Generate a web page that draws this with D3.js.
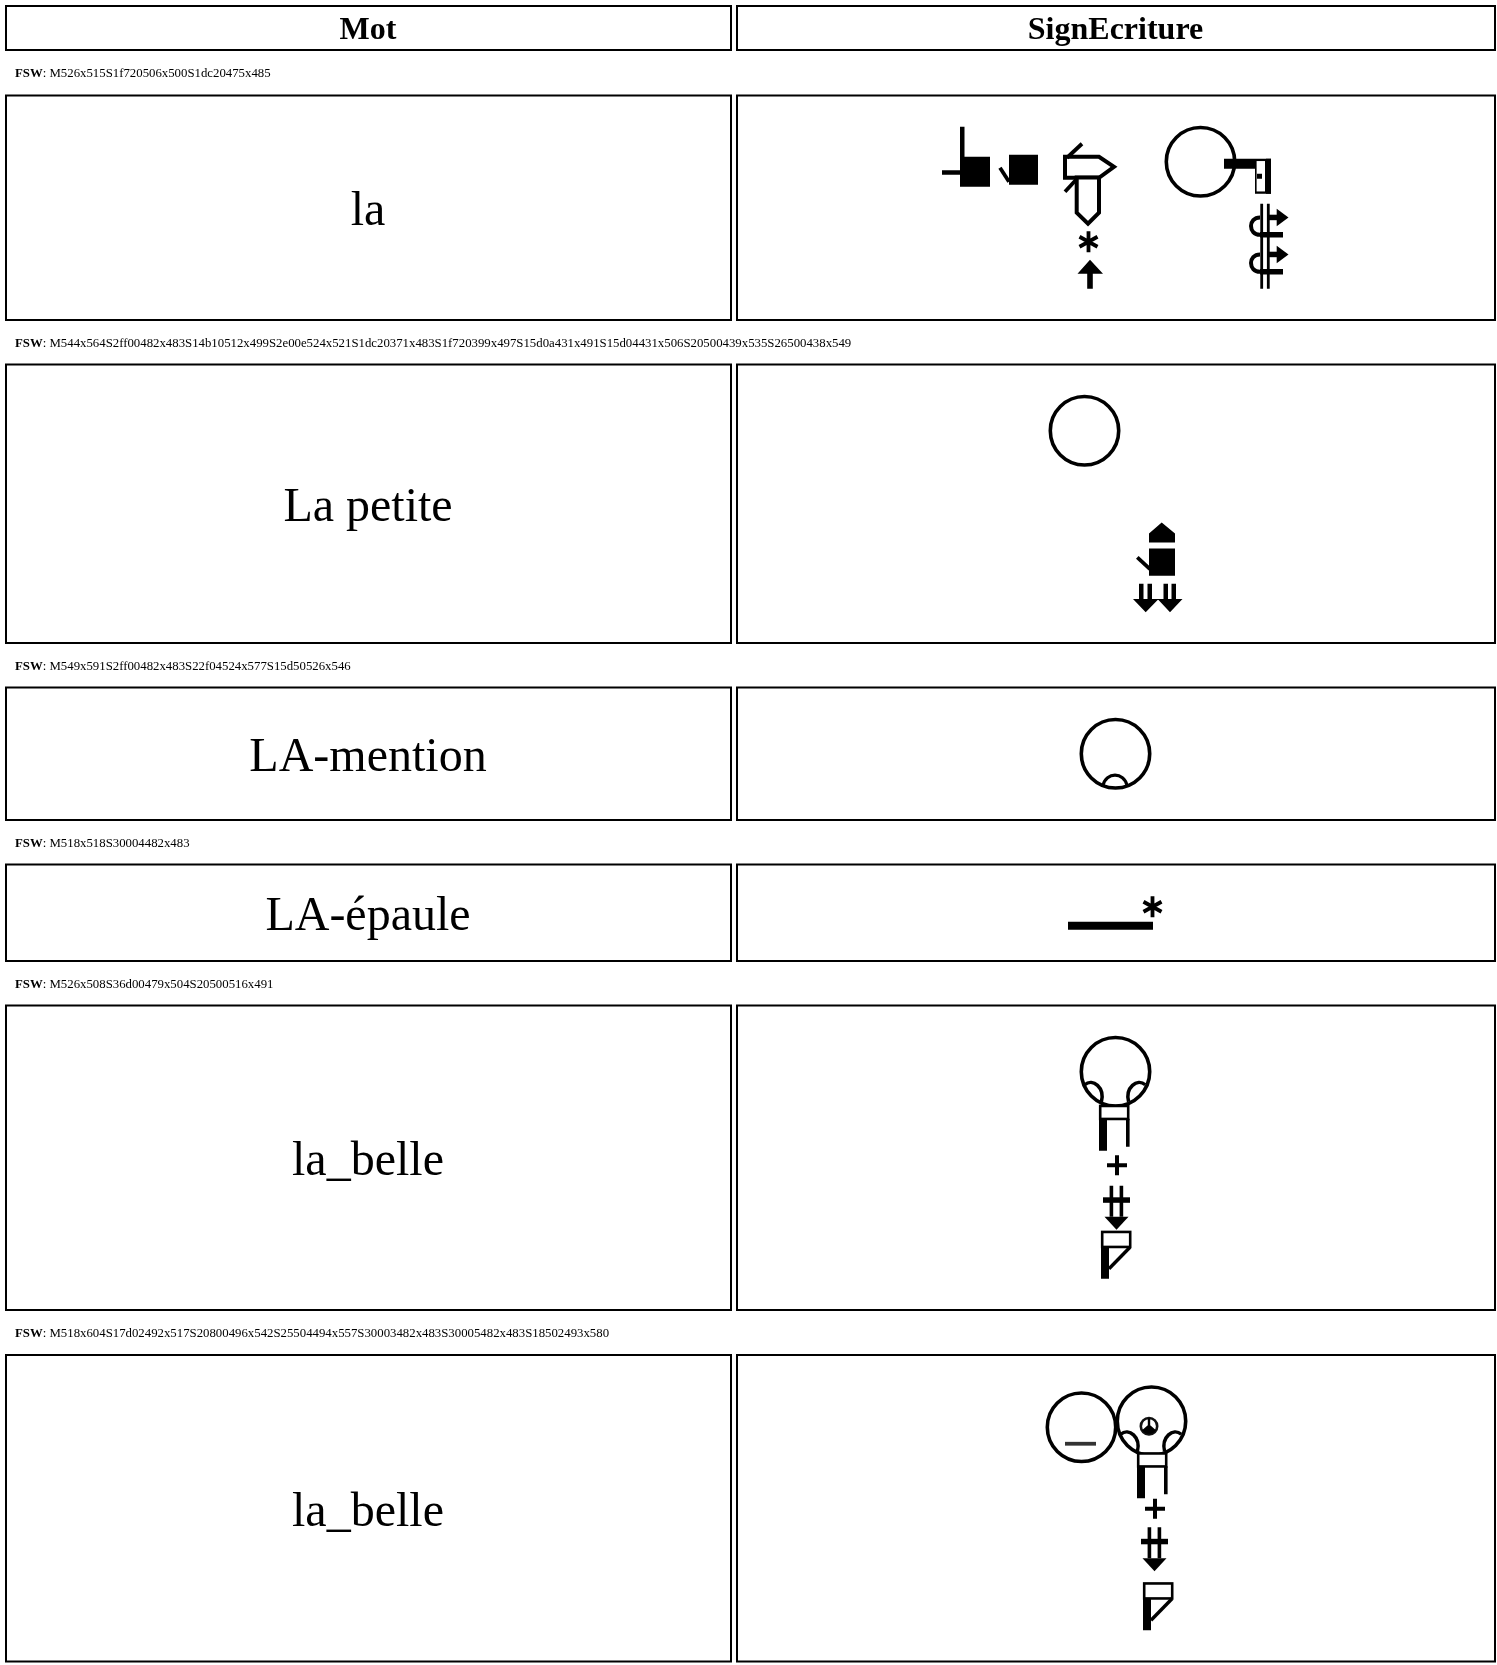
<!DOCTYPE html>
<html>
<head>
<meta charset="utf-8">
<script src="https://cdn.jsdelivr.net/npm/d3@7"></script>
<style>
  html, body { margin: 0; padding: 0; background: #fff; overflow: hidden; }
  svg { filter: blur(0.35px); }
  text { font-family: "Liberation Serif", "Times New Roman", serif; fill: #000; }
</style>
</head>
<body>
<div id="chart"></div>
<script>
// table content
var columns = ["Mot", "SignEcriture"];
var words = ["la", "La petite", "LA-mention", "LA-épaule", "la_belle", "la_belle"];
var fswLines = [
  "M526x515S1f720506x500S1dc20475x485",
  "M544x564S2ff00482x483S14b10512x499S2e00e524x521S1dc20371x483S1f720399x497S15d0a431x491S15d04431x506S20500439x535S26500438x549",
  "M549x591S2ff00482x483S22f04524x577S15d50526x546",
  "M518x518S30004482x483",
  "M526x508S36d00479x504S20500516x491",
  "M518x604S17d02492x517S20800496x542S25504494x557S30003482x483S30005482x483S18502493x580"
];
var lastSign = "M517x605S33b00447x486S30003482x483S30005482x483S2f700494x498S17d02493x516S20800497x539S25504495x553S18502496x581";

var width = 1497, height = 1665;
var unit = 2;          // px per fsw unit
var rowPad = 62.5;     // row height on top of the sign height
var headerTop = 6, headerHeight = 44;
var captionGaps = [45.5, 44.5, 44.5, 44.5, 44.5, 45];
var leftCol = [6, 731], rightCol = [737, 1495];
var signMid = 1115;

var svg = d3.select("#chart").append("svg")
  .attr("width", width)
  .attr("height", height);

function fillPath(g, d) {
  return g.append("path").attr("d", d).attr("fill", "#000");
}
function strokePath(g, d, w, fill) {
  return g.append("path").attr("d", d)
    .attr("fill", fill || "none")
    .attr("stroke", "#000")
    .attr("stroke-width", w);
}
function head(g) {
  g.append("circle").attr("cx", 36.5).attr("cy", 35).attr("r", 34.2)
    .attr("fill", "none").attr("stroke", "#000").attr("stroke-width", 3.6);
}
function arrowCross(g) {
  strokePath(g, "M8.4 1V32M18.4 1V32", 3.6);
  strokePath(g, "M0 15.3H27", 5.5);
  fillPath(g, "M1.5 32H25.5L13.5 45Z");
}
function hook(g, dy) {
  strokePath(g, "M12 " + (14.7 + dy) + "C0 " + (14.7 + dy) + " 0 " + (32 + dy) + " 12 " + (32 + dy), 4);
  strokePath(g, "M12 " + (32 + dy) + "H35", 5.5);
  strokePath(g, "M20 " + (14.7 + dy) + "H29", 5.5);
  fillPath(g, "M28.7 " + (6 + dy) + "L40.5 " + (14.7 + dy) + "L28.7 " + (23.5 + dy) + "Z");
}
function star(g) {
  strokePath(g, "M10.5 0.5V21.5M1.5 6L19.5 16M19.5 6L1.5 16", 3.8);
}

// one drawing per sign symbol, local px from the symbol's top left
var glyphs = {
  "2ff00": head,
  "30004": function (g) {
    head(g);
    strokePath(g, "M24 66.5C27 53 45 53 48 66.5", 3.2);
  },
  "30003": function (g) {
    head(g);
    strokePath(g, "M5.7 48C14 41 26 51 22.4 65", 3.5);
  },
  "30005": function (g) {
    strokePath(g, "M66.3 48C58 41 46 51 49.6 65", 3.5);
  },
  "33b00": function (g) {
    head(g);
    g.append("path").attr("d", "M20 51.5H51").attr("stroke", "#333").attr("stroke-width", 3.8);
  },
  "2f700": function (g) {
    g.append("circle").attr("cx", 10).attr("cy", 10).attr("r", 8.2)
      .attr("fill", "none").attr("stroke", "#111").attr("stroke-width", 2.6);
    fillPath(g, "M8.8 2H11.2V9L17 14A8.5 8.5 0 0 1 3 14L8.8 9Z");
  },
  "1dc20": function (g) {
    fillPath(g, "M0 43.5H20V48H0ZM18 0H22.5V30H18ZM18 30H48V60H18Z");
  },
  "1f720": function (g) {
    fillPath(g, "M11 0H40V30H11Z");
    strokePath(g, "M2 13L11 27", 3.8);
  },
  "15d0a": function (g) {
    strokePath(g, "M3 14H37L52 24L37 35H3Z", 4, "#fff");
    strokePath(g, "M5 15L20 1", 3.8);
  },
  "15d04": function (g) {
    strokePath(g, "M14.7 4.7H37V40L26 51L14.7 40Z", 4, "#fff");
    strokePath(g, "M3 19L15 6", 3.8);
  },
  "20500": star,
  "26500": function (g) {
    fillPath(g, "M14 1L27 15H16.8V30H11.2V15H1.5Z");
  },
  "14b10": function (g) {
    fillPath(g, "M0 0H47V35H31V10H0Z");
    g.append("rect").attr("x", 31.8).attr("y", 1.5).attr("width", 10).attr("height", 32)
      .attr("fill", "#fff").attr("stroke", "#000").attr("stroke-width", 1.6);
    fillPath(g, "M33 15H38V20H33Z");
    fillPath(g, "M42 0H47V35H42Z");
  },
  "2e00e": function (g) {
    strokePath(g, "M13.7 1V86M20.3 1V86", 2.8);
    hook(g, 0);
    hook(g, 37);
  },
  "15d50": function (g) {
    fillPath(g, "M25.7 0.7L39 11.7V20.7H13V11.7ZM13 26.7H39V54H13Z");
    strokePath(g, "M1.3 35.7L14 47.3", 3.8);
  },
  "22f04": function (g) {
    fillPath(g, "M7 0H11.5V16H7ZM15.5 0H20V16H15.5ZM31.5 0H36V16H31.5ZM39.5 0H44V16H39.5Z");
    fillPath(g, "M1 15.3H26.6L13.7 28.5ZM25.6 15.3H50.5L38 28.5Z");
  },
  "36d00": function (g) {
    fillPath(g, "M0 0H85V8H0Z");
  },
  "17d02": function (g) {
    g.append("rect").attr("x", 1.2).attr("y", 1.2).attr("width", 28).attr("height", 13)
      .attr("fill", "#fff").attr("stroke", "#000").attr("stroke-width", 2.6);
    fillPath(g, "M0 14H8V46H0ZM27 14H30.6V42H27Z");
  },
  "20800": function (g) {
    strokePath(g, "M10 0.6V20.6M0 10.6H20", 4);
  },
  "25504": arrowCross,
  "18502": function (g) {
    g.append("rect").attr("x", 1.2).attr("y", 1.2).attr("width", 28).attr("height", 15)
      .attr("fill", "#fff").attr("stroke", "#000").attr("stroke-width", 2.6);
    fillPath(g, "M0 16H8V48H0Z");
    strokePath(g, "M29 16.5L8 38", 3.4);
  }
};

function parseSign(fsw) {
  var m = fsw.match(/^M(\d+)x(\d+)/);
  var symbols = [];
  fsw.replace(/S([0-9a-f]{5})(\d{3})x(\d{3})/g, function (_, key, x, y) {
    symbols.push({ key: key, x: +x, y: +y });
  });
  return { maxX: +m[1], maxY: +m[2], symbols: symbols };
}

function cell(x, y, w, h) {
  svg.append("rect")
    .attr("x", x).attr("y", y).attr("width", w).attr("height", h)
    .attr("fill", "#fff").attr("stroke", "#000").attr("stroke-width", 2);
}

// header
var colX = d3.scaleOrdinal().domain(columns).range([leftCol, rightCol]);
columns.forEach(function (c) {
  var xr = colX(c);
  cell(xr[0], headerTop, xr[1] - xr[0], headerHeight);
  svg.append("text")
    .attr("x", (xr[0] + xr[1]) / 2 - 0.5)
    .attr("y", headerTop + headerHeight / 2 + 11)
    .attr("text-anchor", "middle")
    .style("font-size", "32px")
    .style("font-weight", "bold")
    .text(c);
});

// rows
var signs = fswLines.slice(1).concat([lastSign]);
var y = headerTop + headerHeight;

words.forEach(function (word, i) {
  // caption line
  var cap = svg.append("text").attr("x", 15).attr("y", y + 27.2).style("font-size", "12.8px");
  cap.append("tspan").style("font-weight", "bold").text("FSW");
  cap.append("tspan").text(": " + fswLines[i]);
  y += captionGaps[i];

  var sign = parseSign(signs[i]);
  var minX = d3.min(sign.symbols, function (d) { return d.x; });
  var minY = d3.min(sign.symbols, function (d) { return d.y; });
  var rowH = (sign.maxY - minY) * unit + rowPad;
  var midY = y + rowH / 2;

  cell(leftCol[0], y, leftCol[1] - leftCol[0], rowH);
  cell(rightCol[0], y, rightCol[1] - rightCol[0], rowH);

  svg.append("text")
    .attr("x", (leftCol[0] + leftCol[1]) / 2 - 0.5)
    .attr("y", midY + 17.5)
    .attr("text-anchor", "middle")
    .style("font-size", "48px")
    .text(word);

  var sx = d3.scaleLinear().domain([minX, sign.maxX])
    .range([signMid - (sign.maxX - minX) * unit / 2, signMid + (sign.maxX - minX) * unit / 2]);
  var sy = d3.scaleLinear().domain([minY, sign.maxY])
    .range([midY - (sign.maxY - minY) * unit / 2, midY + (sign.maxY - minY) * unit / 2]);

  // heads go under the hands
  var ordered = sign.symbols.slice().sort(function (a, b) {
    return (b.key.charAt(0) === "3" && b.key !== "36d00" ? 1 : 0) - (a.key.charAt(0) === "3" && a.key !== "36d00" ? 1 : 0);
  });
  svg.append("g").selectAll("g")
    .data(ordered)
    .enter().append("g")
    .attr("transform", function (d) { return "translate(" + sx(d.x) + "," + sy(d.y) + ")"; })
    .each(function (d) { glyphs[d.key](d3.select(this)); });

  y += rowH;
});
</script>
</body>
</html>
